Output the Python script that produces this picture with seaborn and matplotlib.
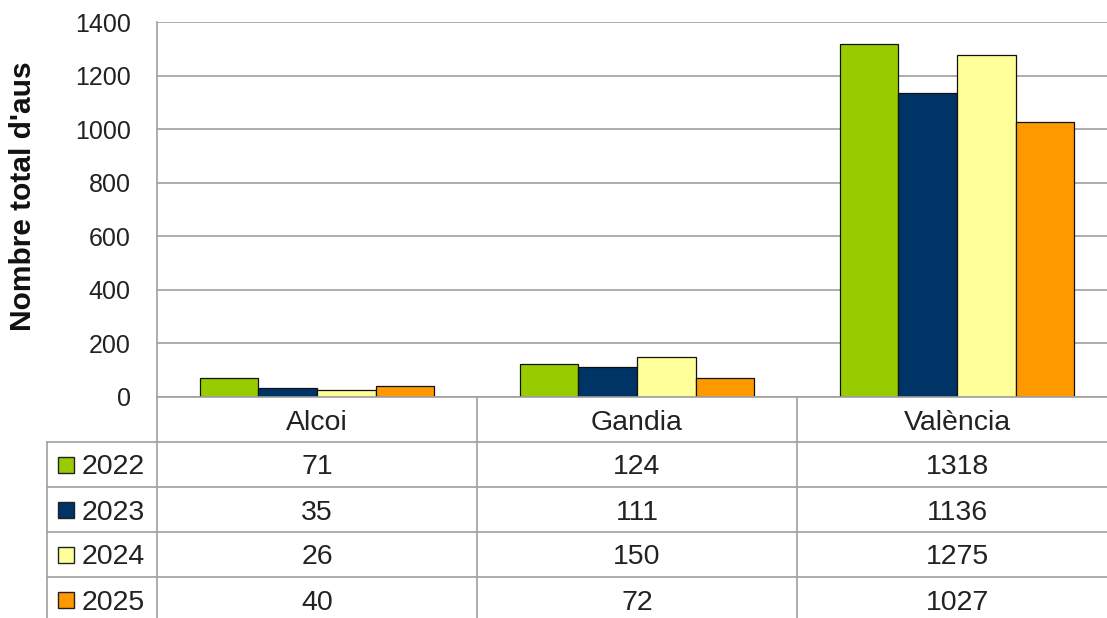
import matplotlib
matplotlib.use("Agg")
import matplotlib.pyplot as plt
import seaborn as sns
import pandas as pd
from matplotlib.patches import Rectangle

# ---- data ----
cities = ["Alcoi", "Gandia", "València"]
years = ["2022", "2023", "2024", "2025"]
v2022 = [71, 124, 1318]
v2023 = [35, 111, 1136]
v2024 = [26, 150, 1275]
v2025 = [40, 72, 1027]
colors = ["#99cc00", "#003366", "#ffff99", "#ff9900"]
yticks = [0, 200, 400, 600, 800, 1000, 1200, 1400]
ylabel = "Nombre total d'aus"

series = [v2022, v2023, v2024, v2025]
rows = []
for yr, vals in zip(years, series):
    for c, v in zip(cities, vals):
        rows.append({"city": c, "year": yr, "value": v})
df = pd.DataFrame(rows)

sns.set_style("white")
plt.rcParams["font.family"] = ["Liberation Sans", "DejaVu Sans"]

W, H = 1107, 618
fig = plt.figure(figsize=(W / 100, H / 100), dpi=100)
fig.patch.set_facecolor("white")

# plot area in pixel terms
left_px, right_px, top_px, bot_px = 157, 1117, 22, 397
ax = fig.add_axes([left_px / W, 1 - bot_px / H, (right_px - left_px) / W, (bot_px - top_px) / H])

sns.barplot(data=df, x="city", y="value", hue="year", order=cities, hue_order=years,
            palette=colors, saturation=1, width=0.734, edgecolor="#111111", linewidth=0.9,
            errorbar=None, legend=False, ax=ax)

grid_col = "#a0a0a0"
ax.set_xlim(-0.5, len(cities) - 0.5)
ax.set_ylim(yticks[0], yticks[-1])
ax.set_yticks(yticks)
ax.set_yticklabels([str(t) for t in yticks], fontsize=18, color="#222222")
ax.set_xticks([])
ax.set_xlabel("")
ax.set_ylabel("")
ax.yaxis.grid(True, color=grid_col, linewidth=1.2)
ax.set_axisbelow(True)
ax.tick_params(axis="y", length=0, pad=19)
for s in ["top", "right"]:
    ax.spines[s].set_visible(False)
for s in ["left", "bottom"]:
    ax.spines[s].set_color(grid_col)
    ax.spines[s].set_linewidth(1.2)

fig.text(23 / W, 1 - 196 / H, ylabel, rotation=90, fontsize=21.5, fontweight="bold",
         ha="center", va="center", color="#111111")

# ---- data table below the plot ----
tab_left, tab_bot = 47, 622
row_h = 45
col_w = (right_px - left_px) / len(cities)
axt = fig.add_axes([tab_left / W, 1 - tab_bot / H, (right_px - tab_left) / W, (tab_bot - bot_px) / H])
axt.set_xlim(tab_left, right_px)
axt.set_ylim(tab_bot, bot_px)
axt.axis("off")

# vertical lines
for i in range(len(cities)):
    x = left_px + i * col_w
    axt.plot([x, x], [bot_px, tab_bot], color=grid_col, lw=1.2, clip_on=False)
axt.plot([tab_left, tab_left], [bot_px + row_h, tab_bot], color=grid_col, lw=1.2, clip_on=False)
# horizontal lines
for k in range(1, len(years) + 1):
    y = bot_px + k * row_h
    axt.plot([tab_left, right_px], [y, y], color=grid_col, lw=1.2, clip_on=False)

txt_kw = dict(fontsize=20.5, color="#222222", ha="center", va="center_baseline")
for i, c in enumerate(cities):
    axt.text(left_px + (i + 0.5) * col_w, bot_px + row_h / 2, c, **txt_kw)

for k, (yr, vals, col) in enumerate(zip(years, series, colors)):
    yc = bot_px + (k + 1.5) * row_h
    axt.add_patch(Rectangle((58, yc - 8), 16, 16, facecolor=col, edgecolor="#222222", lw=1.0))
    axt.text(82, yc, yr, fontsize=20.5, color="#222222", ha="left", va="center_baseline")
    for i, v in enumerate(vals):
        axt.text(left_px + (i + 0.5) * col_w, yc, str(v), **txt_kw)

fig.savefig("out.png", dpi=100, facecolor="white")
